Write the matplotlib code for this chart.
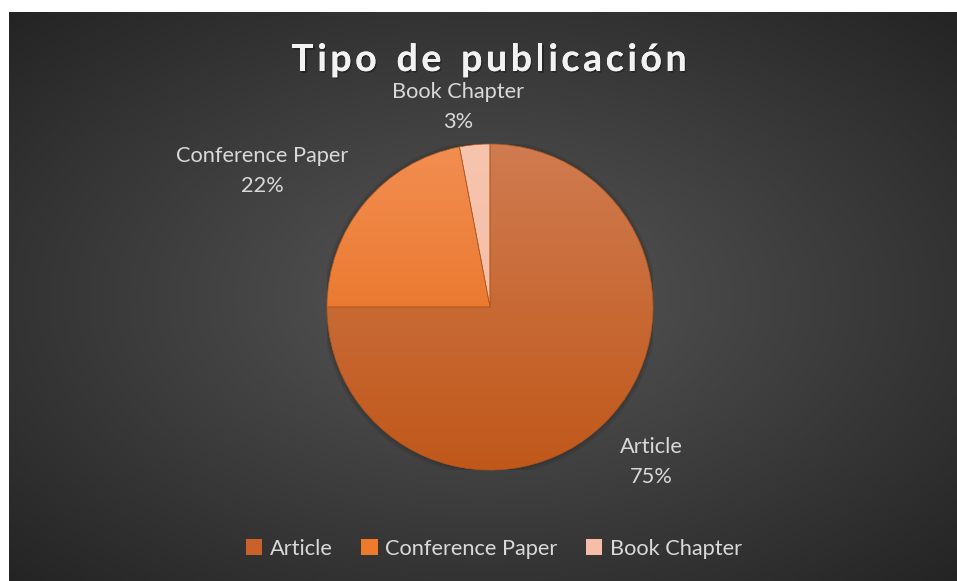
import matplotlib
matplotlib.use("Agg")
import matplotlib.pyplot as plt
import numpy as np
from matplotlib.patches import Patch, Circle
from matplotlib import patheffects as pe
from matplotlib.colors import to_rgb

# data
categories = ["Article", "Conference Paper", "Book Chapter"]
shares = [75, 22, 3]
# gradient colours (top, bottom) and legend colour per slice
top_cols = ["#D07B50", "#F28E52", "#F7C4AE"]
bot_cols = ["#C0581A", "#E4660F", "#F4B9A1"]
legend_cols = ["#C9622A", "#EE7A2C", "#F6BEA7"]
title = "Tipo de publicación"

W, H = 957, 581
fig = plt.figure(figsize=(W / 100, H / 100), dpi=100, facecolor="white")

# background with radial gradient
bg = fig.add_axes([9 / W, 0, (W - 9) / W, (H - 12) / H])
yy, xx = np.mgrid[0:300, 0:500]
cx, cy = 250, 150
r = np.sqrt(((xx - cx) / 250.0) ** 2 + ((yy - cy) / 150.0) ** 2) / np.sqrt(2)
r = np.clip(r, 0, 1)
c_in = np.array(to_rgb("#575757"))
c_out = np.array(to_rgb("#242424"))
img = c_in[None, None, :] * (1 - r[..., None]) + c_out[None, None, :] * r[..., None]
bg.imshow(img, aspect="auto", extent=(0, 1, 0, 1), interpolation="bilinear")
bg.set_axis_off()

# pie axes: centre (490, 307) px, radius 163 px
cxp, cyp, rad = 490, 307, 163
ax = fig.add_axes([(cxp - rad) / W, (H - cyp - rad) / H, 2 * rad / W, 2 * rad / H])
ax.set_axis_off()

# soft shadow round the pie
for k in range(6):
    ax.add_patch(Circle((0, -0.005), 1.0 + 0.006 * k, color="black", alpha=0.03, zorder=1, lw=0))

wedges, _ = ax.pie(shares, startangle=90, counterclock=False, radius=1,
                   colors=legend_cols,
                   wedgeprops=dict(edgecolor="#B5571A", linewidth=0.5))
grad = np.linspace(0, 1, 256)[:, None, None]
for w, t, b in zip(wedges, top_cols, bot_cols):
    g = np.array(to_rgb(t))[None, None, :] * (1 - grad) + np.array(to_rgb(b))[None, None, :] * grad
    im = ax.imshow(g, extent=(-1, 1, -1, 1), aspect="auto", zorder=2, interpolation="bilinear")
    im.set_clip_path(w)
    w.set_facecolor("none")
    w.set_zorder(3)
ax.set_xlim(-1, 1)
ax.set_ylim(-1, 1)

# data labels
label_pos = [(651, 462), (262, 171), (458, 107)]
for name, val, (px, py) in zip(categories, shares, label_pos):
    ax.text((px - cxp) / rad, (cyp - py) / rad, f"{name}\n{val}%", ha="center", va="center",
            fontsize=15.7, color="#D9D9D9", family="Lato", linespacing=1.6, clip_on=False)

# title with letter spacing
renderer = fig.canvas.get_renderer()
fs = 27
widths = []
for ch in title:
    t = fig.text(0, 0, ch if ch != " " else "n", fontsize=fs, fontweight="bold", family="Lato")
    bb = t.get_window_extent(renderer)
    widths.append(bb.width * (0.6 if ch == " " else 1.0))
    t.remove()
spacing = 3.6
total = sum(widths) + spacing * (len(title) - 1)
x = 489 - total / 2
for ch, wd in zip(title, widths):
    if ch != " ":
        fig.text(x / W, 1 - 60 / H, ch, fontsize=fs, fontweight="bold", family="Lato",
                 color="#F2F2F2", ha="left", va="center",
                 path_effects=[pe.withSimplePatchShadow(offset=(1, -1.2), shadow_rgbFace="black", alpha=0.3),
                               pe.Normal()])
    x += wd + spacing

# legend
handles = [Patch(facecolor=c, edgecolor="none") for c in legend_cols]
fig.legend(handles, categories, loc="center", bbox_to_anchor=(494 / W, 1 - 549 / H), ncol=3,
           frameon=False, handlelength=0.75, handleheight=0.75, handletextpad=0.35,
           columnspacing=1.3, labelcolor="#D9D9D9", prop={"family": "Lato", "size": 15.7})

fig.savefig("out.png", dpi=100, facecolor="white")
